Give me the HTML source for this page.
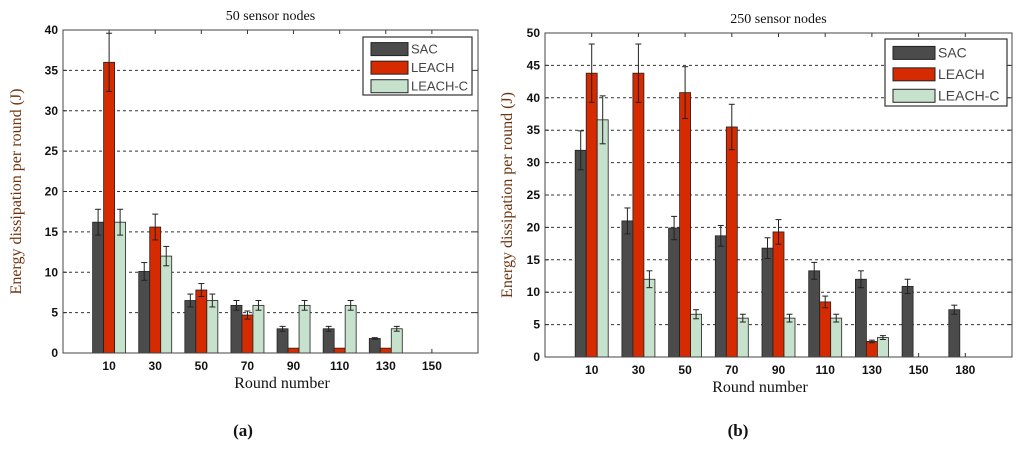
<!DOCTYPE html>
<html><head><meta charset="utf-8"><style>
body{margin:0;background:#fff;width:1024px;height:449px;overflow:hidden}
svg{display:block}
</style></head><body>
<svg id="s" width="1024" height="449" xmlns="http://www.w3.org/2000/svg"></svg>
<script>
const series = ["SAC","LEACH","LEACH-C"];
const colors = ["#4b4b4b","#d62a00","#c6e2cc"];
const catsA = ["10","30","50","70","90","110","130","150"];
const sacA = [16.2,10.1,6.5,5.9,3,3,1.8,0];
const leachA = [36,15.6,7.8,4.7,0.6,0.6,0.6,0];
const leachcA = [16.2,12,6.5,5.9,5.9,5.9,3,0];
const sacErrA = [1.6,1.1,0.8,0.6,0.3,0.3,0.1,0];
const leachErrA = [3.6,1.6,0.8,0.5,0,0,0,0];
const leachcErrA = [1.6,1.2,0.8,0.6,0.6,0.6,0.3,0];
const ticksA = [0,5,10,15,20,25,30,35,40];
const catsB = ["10","30","50","70","90","110","130","150","180"];
const sacB = [31.9,21,19.9,18.7,16.8,13.3,12,10.9,7.3];
const leachB = [43.8,43.8,40.8,35.5,19.3,8.5,2.4,0,0];
const leachcB = [36.6,12,6.6,6,6,6,3,0,0];
const sacErrB = [3,2,1.8,1.6,1.6,1.3,1.3,1.1,0.7];
const leachErrB = [4.5,4.5,4,3.5,1.9,0.9,0.2,0,0];
const leachcErrB = [3.7,1.3,0.7,0.6,0.6,0.6,0.3,0,0];
const ticksB = [0,5,10,15,20,25,30,35,40,45,50];

const svg=document.getElementById('s');
const NS='http://www.w3.org/2000/svg';
function el(tag,attrs,parent){const e=document.createElementNS(NS,tag);for(const k in attrs)e.setAttribute(k,attrs[k]);(parent||svg).appendChild(e);return e;}
function txt(str,attrs,parent){const t=el('text',attrs,parent);t.textContent=str;return t;}

function chart(cfg){
  const g=el('g',{});
  
  
  const {L,R,T,B,ymax,xmax}=cfg;
  const y=v=>B-(v/ymax)*(B-T);
  const x=i=>L+(i+1)/xmax*(R-L);
  el('rect',{x:L,y:T,width:R-L,height:B-T,fill:'#fff',stroke:'none'},g);
  cfg.ticks.forEach(t=>{
    if(t>0&&t<ymax){const l=el('line',{x1:L,x2:R,y1:y(t),y2:y(t),stroke:'#333','stroke-dasharray':'3,3','stroke-width':1},g);
    }
    el('line',{x1:L,x2:L+4,y1:y(t),y2:y(t),stroke:'#333'},g);
    el('line',{x1:R,x2:R-4,y1:y(t),y2:y(t),stroke:'#333'},g);
    const tl=txt(String(t),{x:L-5,y:y(t)+4,'text-anchor':'end','font-family':'Liberation Sans, sans-serif','font-size':12,'font-weight':'bold',fill:'#111'},g);
    
  });
  const bw=11;
  cfg.cats.forEach((c,i)=>{
    const cx=x(i);
    el('line',{x1:cx,x2:cx,y1:B,y2:B-4,stroke:'#333'},g);
    el('line',{x1:cx,x2:cx,y1:T,y2:T+4,stroke:'#333'},g);
    const tl=txt(c,{x:cx,y:B+17,'text-anchor':'middle','font-family':'Liberation Sans, sans-serif','font-size':12,'font-weight':'bold',fill:'#111'},g);
    
    cfg.vals.forEach((arr,s)=>{
      const v=arr[i], e=cfg.errs[s][i];
      const bx=cx+(s-1)*bw-bw/2;
      if(v>0){
        const r=el('rect',{x:bx,y:y(v),width:bw,height:B-y(v),fill:colors[s],stroke:'#222','stroke-width':0.8},g);
        
        
      }
      if(e>0){
        const ex=bx+bw/2;
        el('line',{x1:ex,x2:ex,y1:y(v-e),y2:y(v+e),stroke:'#222','stroke-width':1},g);
        el('line',{x1:ex-3,x2:ex+3,y1:y(v+e),y2:y(v+e),stroke:'#222'},g);
        el('line',{x1:ex-3,x2:ex+3,y1:y(v-e),y2:y(v-e),stroke:'#222'},g);
      }
    });
  });
  el('rect',{x:L,y:T,width:R-L,height:B-T,fill:'none',stroke:'#444','stroke-width':1},g);
  const lg=el('g',{},g);
  
  el('rect',{x:cfg.lx,y:cfg.ly,width:cfg.lw,height:cfg.lh,fill:'#fff',stroke:'#333','stroke-width':1.2},lg);
  series.forEach((s,k)=>{
    const ry=cfg.ly+cfg.lh*(0.2+0.32*k);
    const sw=el('rect',{x:cfg.lx+8,y:ry-6,width:cfg.sw,height:13,fill:colors[k],stroke:'#222'},lg);
    
    const t=txt(s,{x:cfg.lx+11+cfg.sw,y:ry+5,'font-family':'Liberation Sans, sans-serif','font-size':cfg.fs,fill:'#444'},lg);
    
  });
  const ti=txt(cfg.title,{x:(L+R)/2,y:T-10,'text-anchor':'middle','font-family':'Liberation Serif, serif','font-size':14,fill:'#111'},g);
  
  const xl=txt('Round number',{x:cfg.xlx,y:B+35,'text-anchor':'middle','font-family':'Liberation Serif, serif','font-size':16,fill:'#111'},g);
  
  const yl=txt('Energy dissipation per round (J)',{x:0,y:0,transform:`translate(${cfg.ylx},${(T+B)/2}) rotate(-90)`,'text-anchor':'middle','font-family':'Liberation Serif, serif','font-size':16,fill:'#6b3410'},g);
  
  const cap=txt(cfg.cap,{x:cfg.capx,y:436,'text-anchor':'middle','font-family':'Liberation Serif, serif','font-size':17,'font-weight':'bold',fill:'#111'});
  
}
chart({name:'chart-a',L:63,R:478,T:30,B:353,ymax:40,xmax:9,ticks:ticksA,cats:catsA,vals:[sacA,leachA,leachcA],errs:[sacErrA,leachErrA,leachcErrA],lx:363,ly:37,lw:109,lh:58,sw:37,fs:13,title:'50 sensor nodes',xlx:282,ylx:21,cap:'(a)',capx:243});
chart({name:'chart-b',L:545,R:1012,T:33,B:357,ymax:50,xmax:10,ticks:ticksB,cats:catsB,vals:[sacB,leachB,leachcB],errs:[sacErrB,leachErrB,leachcErrB],lx:885,ly:39,lw:122,lh:67,sw:42,fs:14,title:'250 sensor nodes',xlx:760,ylx:512,cap:'(b)',capx:738});
</script>
</body></html>
